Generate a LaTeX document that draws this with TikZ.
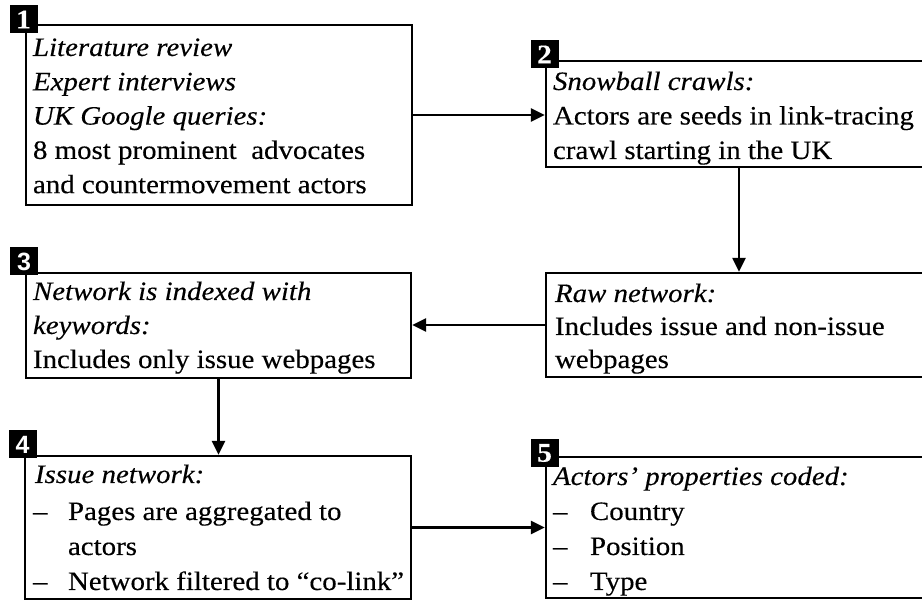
\documentclass[tikz,border=0pt]{standalone}
\usepackage{fontspec}
\setmainfont[FakeStretch=1.09,FakeBold=0.3]{Liberation Serif}
\newfontfamily\lblsans{Liberation Sans}
\usetikzlibrary{arrows.meta}
\begin{document}
\begin{tikzpicture}[x=1pt,y=-1pt,
  box/.style={draw=black,line width=2.3pt,rectangle,inner sep=0pt,fill=white},
  txt/.style={anchor=base west,inner sep=0pt,outer sep=0pt,font=\fontsize{26.5}{34}\selectfont},
  lbl/.style={fill=black,text=white,minimum width=28pt,minimum height=28pt,inner sep=0pt,font=\fontsize{27}{27}\selectfont\bfseries},
  arr/.style={line width=2.3pt,-{Triangle[length=14pt,width=13pt]}}]
\clip (0,0) rectangle (922,601);
\useasboundingbox (0,0) rectangle (922,601);
% boxes
\node[box,minimum width=386pt,minimum height=180pt] (b1) at (219,115) {};
\node[box,minimum width=386pt,minimum height=106pt] (b2) at (739,114) {};
\node[box,minimum width=386pt,minimum height=104pt] (b6) at (739,325) {};
\node[box,minimum width=385pt,minimum height=105pt] (b3) at (218.5,325.5) {};
\node[box,minimum width=386pt,minimum height=143pt] (b4) at (218,527.5) {};
\node[box,minimum width=386pt,minimum height=141pt] (b5) at (739,527.5) {};
% number labels
\node[lbl] (l1) at (23.5,19.5) {1};
\node[lbl] (l2) at (544.5,54.5) {2};
\node[lbl,font=\fontsize{25}{25}\selectfont\lblsans\bfseries] (l3) at (24,261.5) {3};
\node[lbl,font=\fontsize{25}{25}\selectfont\lblsans\bfseries] (l4) at (22.5,444.5) {4};
\node[lbl] (l5) at (544.5,453) {5};
% box 1 text
\node[txt] (t11) at (33,56) {\textit{Literature review}};
\node[txt] (t12) at (33,90.3) {\textit{Expert interviews}};
\node[txt] (t13) at (33,124.6) {\textit{UK Google queries:}};
\node[txt] (t14) at (33,158.9) {8 most prominent\ \ advocates};
\node[txt] (t15) at (33,193.2) {and countermovement actors};
% box 2 text
\node[txt] (t21) at (553,90) {\textit{Snowball crawls:}};
\node[txt] (t22) at (553,124.5) {Actors are seeds in link-tracing};
\node[txt] (t23) at (553,159) {crawl starting in the UK};
% raw network text
\node[txt] (t61) at (555,302) {\textit{Raw network:}};
\node[txt] (t62) at (555,335) {Includes issue and non-issue};
\node[txt] (t63) at (555,368) {webpages};
% box 3 text
\node[txt] (t31) at (33,300) {\textit{Network is indexed with}};
\node[txt] (t32) at (33,334) {\textit{keywords:}};
\node[txt] (t33) at (33,368) {Includes only issue webpages};
% box 4 text
\node[txt] (t41) at (35,483) {\textit{Issue network:}};
\node[txt] (d41) at (33,520) {–};
\node[txt] (t42) at (68,520) {Pages are aggregated to};
\node[txt] (t43) at (68,555) {actors};
\node[txt] (d42) at (33,590) {–};
\node[txt] (t44) at (68,590) {Network filtered to “co-link”};
% box 5 text
\node[txt] (t51) at (553,485) {\textit{Actors’ properties coded:}};
\node[txt] (d51) at (553,520) {–};
\node[txt] (t52) at (590,520) {Country};
\node[txt] (d52) at (553,555) {–};
\node[txt] (t53) at (590,555) {Position};
\node[txt] (d53) at (553,590) {–};
\node[txt] (t54) at (590,590) {Type};
% connectors
\draw[arr] (b1.east) -- (b1.east -| b2.west);
\draw[arr] (b2.south) -- (b6.north);
\draw[arr] (b6.west) -- (b6.west -| b3.east);
\draw[arr] (b3.south) -- (b3.south |- b4.north);
\draw[arr] (b4.east) -- (b4.east -| b5.west);
\end{tikzpicture}
\end{document}
